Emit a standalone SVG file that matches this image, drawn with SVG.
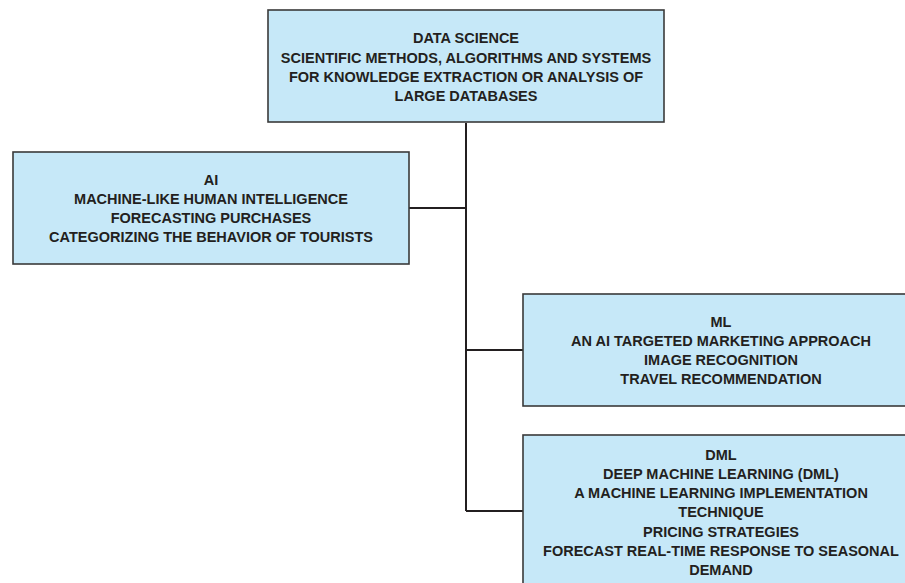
<svg xmlns="http://www.w3.org/2000/svg" width="905" height="583" viewBox="0 0 905 583">
<style>
.box{fill:#c6e8f8;stroke:#3a3a3a;stroke-width:1.6}
.t{font-family:"Liberation Sans",Arial,sans-serif;font-weight:bold;font-size:14.5px;fill:#231f20;text-anchor:middle}
.c{fill:none;stroke:#231f20;stroke-width:2}
</style>
<rect width="905" height="583" fill="#fff"/>
<g id="connectors">
<path class="c" d="M466,123 V511"/>
<path class="c" d="M409,208 H466"/>
<path class="c" d="M466,350 H523"/>
<path class="c" d="M466,511 H523"/>
</g>
<g id="data-science">
<rect class="box" x="268" y="10" width="396" height="112"/>
<text class="t" x="466" y="43">DATA SCIENCE</text>
<text class="t" x="466" y="63">SCIENTIFIC METHODS, ALGORITHMS AND SYSTEMS</text>
<text class="t" x="466" y="82">FOR KNOWLEDGE EXTRACTION OR ANALYSIS OF</text>
<text class="t" x="466" y="101">LARGE DATABASES</text>
</g>
<g id="ai">
<rect class="box" x="13" y="152" width="396" height="112"/>
<text class="t" x="211" y="185">AI</text>
<text class="t" x="211" y="204">MACHINE-LIKE HUMAN INTELLIGENCE</text>
<text class="t" x="211" y="223">FORECASTING PURCHASES</text>
<text class="t" x="211" y="242">CATEGORIZING THE BEHAVIOR OF TOURISTS</text>
</g>
<g id="ml">
<rect class="box" x="523" y="294" width="400" height="112"/>
<text class="t" x="721" y="327">ML</text>
<text class="t" x="721" y="346">AN AI TARGETED MARKETING APPROACH</text>
<text class="t" x="721" y="365">IMAGE RECOGNITION</text>
<text class="t" x="721" y="384">TRAVEL RECOMMENDATION</text>
</g>
<g id="dml">
<rect class="box" x="523" y="435" width="400" height="160"/>
<text class="t" x="721" y="460">DML</text>
<text class="t" x="721" y="479">DEEP MACHINE LEARNING (DML)</text>
<text class="t" x="721" y="498">A MACHINE LEARNING IMPLEMENTATION</text>
<text class="t" x="721" y="517">TECHNIQUE</text>
<text class="t" x="721" y="537">PRICING STRATEGIES</text>
<text class="t" x="721" y="556">FORECAST REAL-TIME RESPONSE TO SEASONAL</text>
<text class="t" x="721" y="575">DEMAND</text>
</g>
</svg>
